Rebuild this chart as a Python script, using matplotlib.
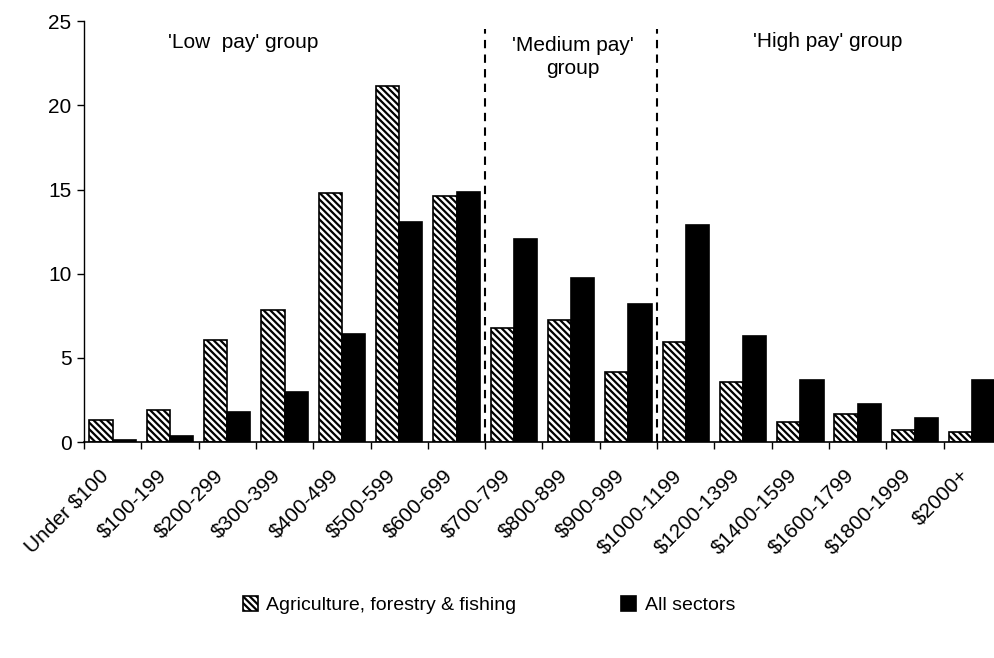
import matplotlib.pyplot as plt
import numpy as np

plt.rcParams['font.family'] = ['Liberation Sans', 'DejaVu Sans']
plt.rcParams['hatch.linewidth'] = 1.6

bands = ['Under $100', '$100-199', '$200-299', '$300-399', '$400-499', '$500-599',
         '$600-699', '$700-799', '$800-899', '$900-999', '$1000-1199', '$1200-1399',
         '$1400-1599', '$1600-1799', '$1800-1999', '$2000+']
agri = [1.3, 1.9, 6.05, 7.85, 14.8, 21.15, 14.6, 6.75, 7.25, 4.15, 5.95, 3.55, 1.2, 1.7, 0.75, 0.6]
allsec = [0.15, 0.35, 1.8, 3.0, 6.45, 13.1, 14.85, 12.05, 9.75, 8.2, 12.9, 6.3, 3.7, 2.25, 1.45, 3.7]
group_bounds = [7, 10]  # category boundaries where the pay groups split

fig = plt.figure(figsize=(9.94, 6.58), dpi=100)
ax = fig.add_axes([0.0845, 0.328, 0.9225, 0.64])

x = np.arange(len(bands))
w = 0.405
ax.bar(x + 0.5 - w, agri, w, align='edge', color='white', edgecolor='black',
       hatch='\\\\\\\\\\', linewidth=1.2, label='Agriculture, forestry & fishing')
ax.bar(x + 0.5, allsec, w, align='edge', color='black', edgecolor='black',
       linewidth=1.2, label='All sectors')

for b in group_bounds:
    ax.axvline(b, ymin=0, ymax=24.5 / 25, color='black', linestyle=(0, (4, 3)), linewidth=1.5)

ax.set_xlim(0, len(bands))
ax.set_ylim(0, 25)
ax.set_yticks([0, 5, 10, 15, 20, 25])
ax.set_xticks(np.arange(len(bands) + 1), minor=False)
ax.set_xticklabels([])
ax.set_xticks(x + 0.5, minor=True)
ax.set_xticklabels(bands, minor=True, rotation=45, ha='right', va='top', fontsize=15)
ax.tick_params(axis='x', which='minor', length=0, pad=17)
ax.tick_params(axis='x', which='major', length=5, width=1, direction='out')
ax.tick_params(axis='y', length=5, width=1, labelsize=15, pad=4)
for s in ['top', 'right']:
    ax.spines[s].set_visible(False)
ax.spines['left'].set_linewidth(1)
ax.spines['bottom'].set_linewidth(1.2)

ax.text(2.77, 23.7, "'Low  pay' group", ha='center', va='center', fontsize=15)
ax.text(8.53, 22.85, "'Medium pay'\ngroup", ha='center', va='center', fontsize=15, linespacing=1.25)
ax.text(12.97, 23.8, "'High pay' group", ha='center', va='center', fontsize=15)

fig.legend(loc='center', bbox_to_anchor=(0.492, 0.08), ncol=2, frameon=False,
           fontsize=14, columnspacing=5.4, handlelength=0.75, handleheight=0.75,
           handletextpad=0.45)

fig.savefig('out.png', dpi=100)
